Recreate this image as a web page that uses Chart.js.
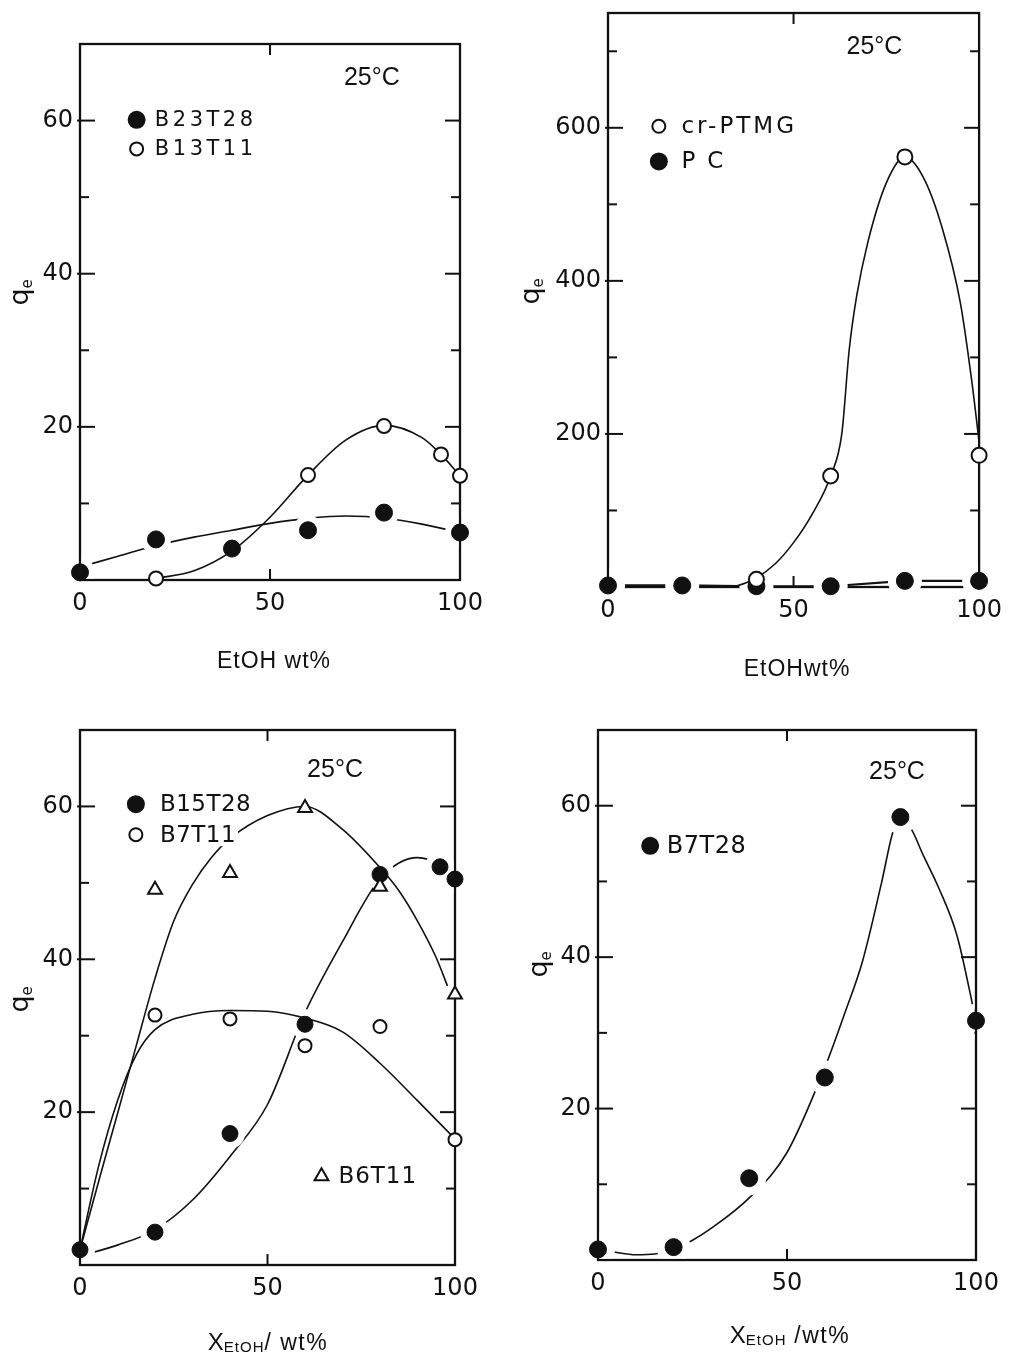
<!DOCTYPE html>
<html><head><meta charset="utf-8">
<script src="https://cdn.jsdelivr.net/npm/chart.js@4.4.0/dist/chart.umd.min.js"></script>
<style>
html,body{margin:0;padding:0;background:#fff;}
body{width:1011px;height:1358px;position:relative;overflow:hidden;}
canvas{position:absolute;}
</style></head><body>
<canvas id="c1" style="left:0;top:0" width="505" height="690"></canvas>
<canvas id="c2" style="left:505px;top:-30px" width="506" height="720"></canvas>
<canvas id="c3" style="left:0;top:690px" width="505" height="668"></canvas>
<canvas id="c4" style="left:505px;top:690px" width="506" height="668"></canvas>
<script>
// ---------- DATA ----------
const xTickLabels = [0, 50, 100];
// Panel 1 (top-left)
const p1X = [0, 20, 40, 60, 80, 100];
const p1B23T28 = [1.0, 5.3, 4.1, 6.5, 8.8, 6.2];
const p1B13T11X = [20, 60, 80, 95, 100];
const p1B13T11 = [0.2, 13.7, 20.1, 16.4, 13.6];
const p1CurveAX = [0, 10, 20, 30, 40, 50, 60, 70, 80, 90, 100];
const p1CurveA = [1.7, 3.1, 4.5, 5.6, 6.5, 7.4, 8.05, 8.35, 8.1, 7.3, 6.2];
const p1CurveBX = [20, 30, 40, 50, 60, 70, 80, 90, 95, 100];
const p1CurveB = [0.2, 1.2, 3.8, 8.2, 13.7, 18.3, 20.2, 18.6, 16.4, 13.6];
const p1YLabels = [20, 40, 60];
// Panel 2 (top-right)
const p2X = [0, 20, 40, 60, 80, 100];
const p2PC = [2, 2, 1, 1, 8, 8];
const p2PTMGX = [40, 60, 80, 100];
const p2PTMG = [10, 145, 562, 172];
const p2CurveX = [30, 35, 40, 45, 50, 55, 60, 63, 65, 67, 70, 75, 80, 85, 90, 95, 98, 100];
const p2Curve = [0, 2, 12, 30, 58, 95, 145, 200, 310, 380, 450, 528, 562, 535, 470, 370, 270, 190];
const p2YLabels = [200, 400, 600];
// Panel 3 (bottom-left)
const p3X = [0, 20, 40, 60, 80, 96, 100];
const p3B15T28 = [2, 4.3, 17.2, 31.5, 51.1, 52.1, 50.5];
const p3B7T11X = [20, 40, 60, 80, 100];
const p3B7T11 = [32.7, 32.2, 28.7, 31.2, 16.4];
const p3B6T11X = [20, 40, 60, 80, 100];
const p3B6T11 = [49.1, 51.3, 59.8, 49.5, 35.4];
const p3CurveAX = [0, 10, 20, 30, 40, 50, 60, 70, 80, 90, 95];
const p3CurveA = [1.2, 2.6, 4.6, 8.5, 14.2, 21, 33, 42.3, 50.5, 53.3, 52.8];
const p3CurveBX = [0, 5, 10, 15, 20, 30, 40, 50, 60, 70, 80, 90, 100];
const p3CurveB = [2, 13, 21.5, 27.5, 30.8, 32.8, 33.3, 33.2, 32.3, 30.5, 26.4, 21.5, 16.5];
const p3CurveCX = [0, 5, 10, 15, 20, 25, 30, 35, 40, 50, 60, 70, 80, 85, 90, 95, 98];
const p3CurveC = [2, 11, 19.8, 28.7, 37.5, 45, 49.8, 53.3, 55.8, 58.8, 60, 57, 52, 49, 45, 40.2, 36.5];
const p3YLabels = [20, 40, 60];
// Panel 4 (bottom-right)
const p4X = [0, 20, 40, 60, 80, 100];
const p4B7T28 = [1.4, 1.7, 10.8, 24.1, 58.5, 31.6];
const p4RiseX = [0, 5, 10, 15, 20, 25, 30, 40, 50, 60, 65, 70, 75, 78, 80];
const p4Rise = [1.5, 1.0, 0.7, 0.8, 1.4, 2.6, 4.2, 8.2, 14.2, 25.4, 32.2, 39.5, 49.8, 56.5, 58.5];
const p4FallX = [80, 83, 86, 90, 95, 100];
const p4Fall = [58.5, 56.8, 53.5, 49.3, 42.8, 31.6];
const p4YLabels = [20, 40, 60];

// ---------- HELPERS ----------
const INK = '#111';
const pts = (xs, ys) => xs.map((x, i) => ({x, y: ys[i]}));
// order: higher numbers are drawn first (underneath)
function curve(xs, ys, order) {
  return {type: 'line', data: pts(xs, ys), borderColor: INK, borderWidth: 1.6, pointRadius: 0,
    cubicInterpolationMode: 'monotone', fill: false, clip: false, order};
}
function markers(xs, ys, kind, r, order, haloR, haloBottom) {
  const filled = kind === 'filled';
  return {type: 'scatter', data: pts(xs, ys), pointRadius: r, halo: haloR || 0, haloBottom: haloBottom || -1.5,
    pointStyle: kind === 'triangle' ? 'triangle' : 'circle',
    pointBackgroundColor: filled ? INK : '#fff', pointBorderColor: INK,
    pointBorderWidth: filled ? 1 : 2, showLine: false, clip: false, order};
}
function line(ctx, x1, y1, x2, y2) { ctx.beginPath(); ctx.moveTo(x1, y1); ctx.lineTo(x2, y2); ctx.stroke(); }
function drawKey(ctx, kind, x, y, r) {
  ctx.save();
  ctx.lineWidth = 2; ctx.strokeStyle = INK; ctx.fillStyle = kind === 'filled' ? INK : '#fff';
  ctx.beginPath();
  if (kind === 'triangle') {
    const w = r * Math.sqrt(3);
    ctx.moveTo(x, y - r); ctx.lineTo(x + w / 2, y + r / 2); ctx.lineTo(x - w / 2, y + r / 2); ctx.closePath();
  } else ctx.arc(x, y, r, 0, Math.PI * 2);
  ctx.fill(); ctx.stroke();
  ctx.restore();
}

const deco = {
  id: 'deco',
  beforeDatasetsDraw(chart, args, o) {
    const {ctx, chartArea: a, scales: {x, y}} = chart;
    ctx.save();
    ctx.strokeStyle = INK; ctx.lineWidth = 2.3; ctx.lineCap = 'butt';
    ctx.strokeRect(a.left, a.top, a.right - a.left, a.bottom - a.top);
    ctx.lineWidth = 2;
    for (let v = y.min + o.yStep; v < y.max - 1e-6; v += o.yStep) {
      const py = y.getPixelForValue(v);
      const major = o.yLabels.includes(Math.round(v));
      const len = major ? 15 : 9;
      line(ctx, a.left - (major ? 3 : 0), py, a.left + len, py);
      line(ctx, a.right, py, a.right - len, py);
    }
    const px = x.getPixelForValue(50);
    line(ctx, px, a.bottom, px, a.bottom - 11);
    line(ctx, px, a.top, px, a.top + 11);
    ctx.restore();
  },
  beforeDatasetDraw(chart, args) {
    const ds = chart.data.datasets[args.index];
    if (!ds.halo) return;
    const {ctx, chartArea: a} = chart;
    ctx.save();
    ctx.beginPath();
    ctx.rect(a.left + 1.6, a.top + 1.6, a.right - a.left - 3.2, a.bottom + ds.haloBottom - a.top - 1.6);
    ctx.clip();
    ctx.fillStyle = '#fff';
    for (const el of args.meta.data) {
      ctx.beginPath(); ctx.arc(el.x, el.y, ds.halo, 0, Math.PI * 2); ctx.fill();
    }
    ctx.restore();
  },
  afterDatasetsDraw(chart, args, o) {
    const {ctx, scales: {x, y}} = chart;
    ctx.save();
    ctx.fillStyle = INK; ctx.textBaseline = 'middle';
    ctx.font = `${o.tempSize}px "Liberation Sans", Arial, sans-serif`;
    ctx.textAlign = 'center';
    ctx.fillText('25°C', x.getPixelForValue(o.temp[0]), y.getPixelForValue(o.temp[1]));
    for (const k of o.keys) {
      const kx = x.getPixelForValue(k.x), ky = y.getPixelForValue(k.y);
      ctx.font = `${k.size}px "DejaVu Sans", sans-serif`;
      ctx.letterSpacing = (k.spacing || 0) + 'px';
      const tw = ctx.measureText(k.label).width;
      const tx = x.getPixelForValue(k.tx);
      ctx.fillStyle = '#fff';
      ctx.fillRect(tx - 2, ky - k.size * 0.5, tw + 4, k.size);
      ctx.fillStyle = INK; ctx.textAlign = 'left';
      ctx.fillText(k.label, tx, ky + 1);
      ctx.letterSpacing = '0px';
      drawKey(ctx, k.kind, kx, ky, k.r);
    }
    // y title q_e (rotated)
    ctx.save();
    ctx.translate(o.yTitle[0], o.yTitle[1]);
    ctx.rotate(-Math.PI / 2);
    ctx.textAlign = 'left'; ctx.textBaseline = 'alphabetic';
    ctx.font = '27px "DejaVu Sans", sans-serif';
    const qw = ctx.measureText('q').width;
    ctx.fillText('q', -qw / 2 - 4, 6);
    ctx.font = '15px "DejaVu Sans", sans-serif';
    ctx.fillText('e', qw / 2 - 4, 10);
    ctx.restore();
    // x title
    ctx.textBaseline = 'alphabetic';
    const big = '23px "Liberation Sans", Arial, sans-serif';
    if (o.xTitle.kind === 'plain') {
      ctx.font = big;
      ctx.letterSpacing = o.xTitle.spacing + 'px';
      ctx.textAlign = 'center';
      ctx.fillText(o.xTitle.text, o.xTitle.at[0], o.xTitle.at[1] + 8);
      ctx.letterSpacing = '0px';
    } else {
      const parts = [
        ['X', '24px "Liberation Sans", Arial, sans-serif', 0, 0],
        ['EtOH', '15px "Liberation Sans", Arial, sans-serif', 2, 1],
        [o.xTitle.rest, big, 0, 1.5]
      ];
      let total = 0;
      for (const p of parts) { ctx.font = p[1]; ctx.letterSpacing = p[3] + 'px'; total += ctx.measureText(p[0]).width; }
      let cx = o.xTitle.at[0] - total / 2;
      ctx.textAlign = 'left';
      for (const p of parts) {
        ctx.font = p[1]; ctx.letterSpacing = p[3] + 'px';
        ctx.fillText(p[0], cx, o.xTitle.at[1] + 8 + p[2]);
        cx += ctx.measureText(p[0]).width;
      }
      ctx.letterSpacing = '0px';
    }
    ctx.restore();
  }
};

function build(id, cfg) {
  const tickFont = {family: '"DejaVu Sans", sans-serif', size: 24};
  new Chart(document.getElementById(id), {
    data: {datasets: cfg.datasets},
    plugins: [deco],
    options: {
      responsive: false, animation: false, events: [],
      layout: {autoPadding: false, padding: {left: 0, top: cfg.top, right: cfg.right, bottom: 0}},
      plugins: {legend: {display: false}, tooltip: {enabled: false}, deco: cfg.deco},
      scales: {
        x: {type: 'linear', min: 0, max: 100,
          afterFit(s) { s.height = cfg.hx; },
          afterBuildTicks(s) { s.ticks = xTickLabels.map(v => ({value: v})); },
          grid: {display: false, drawTicks: false}, border: {display: false},
          ticks: {font: tickFont, color: INK, padding: 9, maxRotation: 0, autoSkip: false}},
        y: {type: 'linear', min: 0, max: cfg.ymax,
          afterFit(s) { s.width = cfg.wy; },
          afterBuildTicks(s) { s.ticks = cfg.deco.yLabels.map(v => ({value: v})); },
          grid: {display: false, drawTicks: false}, border: {display: false},
          ticks: {font: tickFont, color: INK, padding: 7, autoSkip: false}}
      }
    }
  });
}

build('c1', {
  top: 44, right: 45, hx: 110, wy: 80, ymax: 70,
  datasets: [
    curve(p1CurveAX, p1CurveA, 4),
    markers(p1X, p1B23T28, 'filled', 8.5, 3, 15),
    curve(p1CurveBX, p1CurveB, 2),
    markers(p1B13T11X, p1B13T11, 'open', 7, 1)
  ],
  deco: {yStep: 10, yLabels: p1YLabels, temp: [76.8, 65.6], tempSize: 25,
    keys: [{kind: 'filled', x: 14.9, y: 60.1, tx: 19.7, label: 'B23T28', size: 21, spacing: 3.5, r: 8},
           {kind: 'open', x: 14.9, y: 56.3, tx: 19.7, label: 'B13T11', size: 21, spacing: 3.5, r: 6.5}],
    yTitle: [22, 293], xTitle: {kind: 'plain', text: 'EtOH wt%', spacing: 1, at: [274, 660]}}
});

build('c2', {
  top: 43, right: 24, hx: 103, wy: 103, ymax: 750,
  datasets: [
    {type: 'line', data: pts(p2X, p2PC), borderColor: INK, borderWidth: 2.2, pointRadius: 0, tension: 0, clip: false, order: 5},
    markers(p2X, p2PC, 'filled', 8.5, 4, 17, 2),
    curve(p2CurveX, p2Curve, 2),
    markers(p2PTMGX, p2PTMG, 'open', 7.5, 1)
  ],
  deco: {yStep: 100, yLabels: p2YLabels, temp: [71.8, 705], tempSize: 25,
    keys: [{kind: 'open', x: 13.7, y: 602, tx: 19.8, label: 'cr-PTMG', size: 23, spacing: 3, r: 6.5},
           {kind: 'filled', x: 13.7, y: 556, tx: 19.8, label: 'PC', size: 23, spacing: 12, r: 8}],
    yTitle: [28, 322], xTitle: {kind: 'plain', text: 'EtOHwt%', spacing: 1, at: [292, 698]}}
});

build('c3', {
  top: 40, right: 50, hx: 93, wy: 80, ymax: 70,
  datasets: [
    curve(p3CurveAX, p3CurveA, 6),
    markers(p3X, p3B15T28, 'filled', 8, 5, 15),
    curve(p3CurveBX, p3CurveB, 4), curve(p3CurveCX, p3CurveC, 4),
    markers(p3B7T11X, p3B7T11, 'open', 6.5, 2),
    markers(p3B6T11X, p3B6T11, 'triangle', 8, 1)
  ],
  deco: {yStep: 10, yLabels: p3YLabels, temp: [68, 64.8], tempSize: 25,
    keys: [{kind: 'filled', x: 14.9, y: 60.3, tx: 21.3, label: 'B15T28', size: 23, spacing: 0.5, r: 8},
           {kind: 'open', x: 14.9, y: 56.3, tx: 21.3, label: 'B7T11', size: 23, spacing: 0.5, r: 6.5},
           {kind: 'triangle', x: 64.4, y: 11.6, tx: 68.9, label: 'B6T11', size: 23, spacing: 1, r: 8}],
    yTitle: [22, 310], xTitle: {kind: 'sub', rest: '/ wt%', at: [268, 652]}}
});

build('c4', {
  top: 40, right: 35, hx: 98, wy: 93, ymax: 70,
  datasets: [
    curve(p4RiseX, p4Rise, 3), curve(p4FallX, p4Fall, 3),
    markers(p4X, p4B7T28, 'filled', 8.5, 1, 17)
  ],
  deco: {yStep: 10, yLabels: p4YLabels, temp: [79.1, 64.5], tempSize: 25,
    keys: [{kind: 'filled', x: 13.8, y: 54.7, tx: 18.2, label: 'B7T28', size: 24, spacing: 0.5, r: 8}],
    yTitle: [36, 275], xTitle: {kind: 'sub', rest: ' /wt%', at: [285, 645]}}
});
</script>
</body></html>
